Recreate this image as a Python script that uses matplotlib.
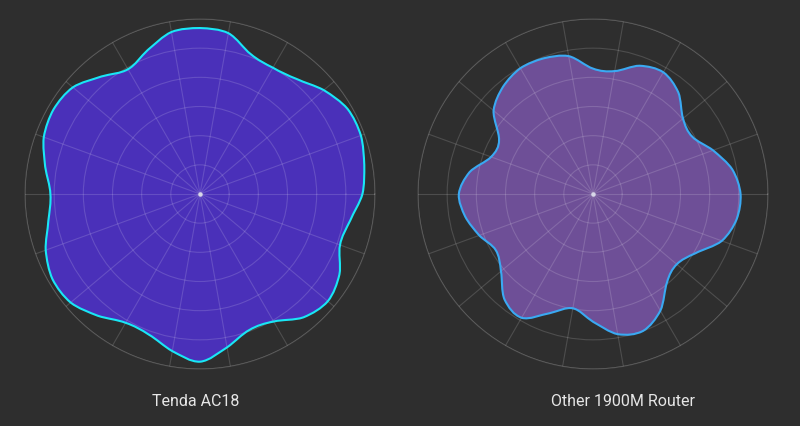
import numpy as np
import matplotlib.pyplot as plt
from matplotlib.path import Path
from matplotlib.patches import PathPatch

# radius read every 10 degrees (0 = right, counter-clockwise), outer ring = 6
angles_deg = list(range(0, 360, 10))
tenda = [5.57, 5.72, 5.87, 5.84, 5.54, 5.15, 5.00, 5.10, 5.60, 5.69,
         5.64, 5.25, 4.94, 5.26, 5.69, 5.80, 5.70, 5.39, 5.13, 5.28,
         5.63, 5.84, 5.79, 5.45, 5.10, 5.13, 5.47, 5.75, 5.34, 4.96,
         5.05, 5.52, 5.72, 5.52, 5.11, 5.23]
other = [5.06, 4.85, 4.38, 3.93, 4.03, 4.55, 4.82, 4.68, 4.28, 4.30,
         4.80, 4.95, 4.98, 4.80, 4.45, 3.72, 3.72, 4.30, 4.60, 4.45,
         4.15, 3.85, 4.12, 4.72, 4.90, 4.35, 3.98, 4.38, 4.88, 5.00,
         4.62, 3.95, 3.75, 4.06, 4.70, 5.00]
names = ["Tenda AC18", "Other 1900M Router"]
fills = ["#4a30b9", "#6e4f97"]
edges = ["#19e6f5", "#3aa9f2"]

bg = "#2e2e2e"


def smooth_closed(theta, r):
    # closed Catmull-Rom curve through the points, as cubic bezier segments
    n = len(theta)
    step = 2 * np.pi / n
    verts = [(theta[0], r[0])]
    codes = [Path.MOVETO]
    for i in range(n):
        r0, r1, r2, r3 = r[i - 1], r[i], r[(i + 1) % n], r[(i + 2) % n]
        t1 = theta[i]
        t2 = t1 + step
        verts += [(t1 + step / 3, r1 + (r2 - r0) / 6),
                  (t2 - step / 3, r2 - (r3 - r1) / 6),
                  (t2, r2)]
        codes += [Path.CURVE4] * 3
    return Path(verts, codes)


fig = plt.figure(figsize=(8, 4.27), dpi=100, facecolor=bg)
rects = [[25 / 800, 57 / 427, 350 / 800, 350 / 427],
         [418 / 800, 57 / 427, 350 / 800, 350 / 427]]
label_x = [196 / 800, 623 / 800]

theta = np.deg2rad(angles_deg)
for k, vals in enumerate([tenda, other]):
    ax = fig.add_axes(rects[k], projection="polar", facecolor=bg)
    path = smooth_closed(theta, np.array(vals))
    ax.add_patch(PathPatch(path, facecolor=fills[k], edgecolor="none",
                           transform=ax.transData, zorder=1))
    ax.add_patch(PathPatch(path, facecolor="none", edgecolor=edges[k],
                           lw=1.5, transform=ax.transData, zorder=4))
    ax.set_ylim(0, 6)
    ax.set_rticks([1, 2, 3, 4, 5, 6])
    ax.set_thetagrids(range(0, 360, 20))
    ax.set_xticklabels([])
    ax.set_yticklabels([])
    ax.tick_params(length=0)
    ax.set_axisbelow(False)
    ax.grid(True, color="white", alpha=0.15, lw=0.8)
    ax.spines["polar"].set_color("#4b4b4b")
    ax.spines["polar"].set_linewidth(0.8)
    ax.plot([0], [0], "o", ms=2.2, color="#d8d8e8", zorder=5)
    fig.text(label_x[k], 1 - 406 / 427, names[k], ha="center", va="baseline",
             color="#e6e6e6", fontsize=11.5, family="Roboto")

fig.savefig("out.png", dpi=100, facecolor=bg)
